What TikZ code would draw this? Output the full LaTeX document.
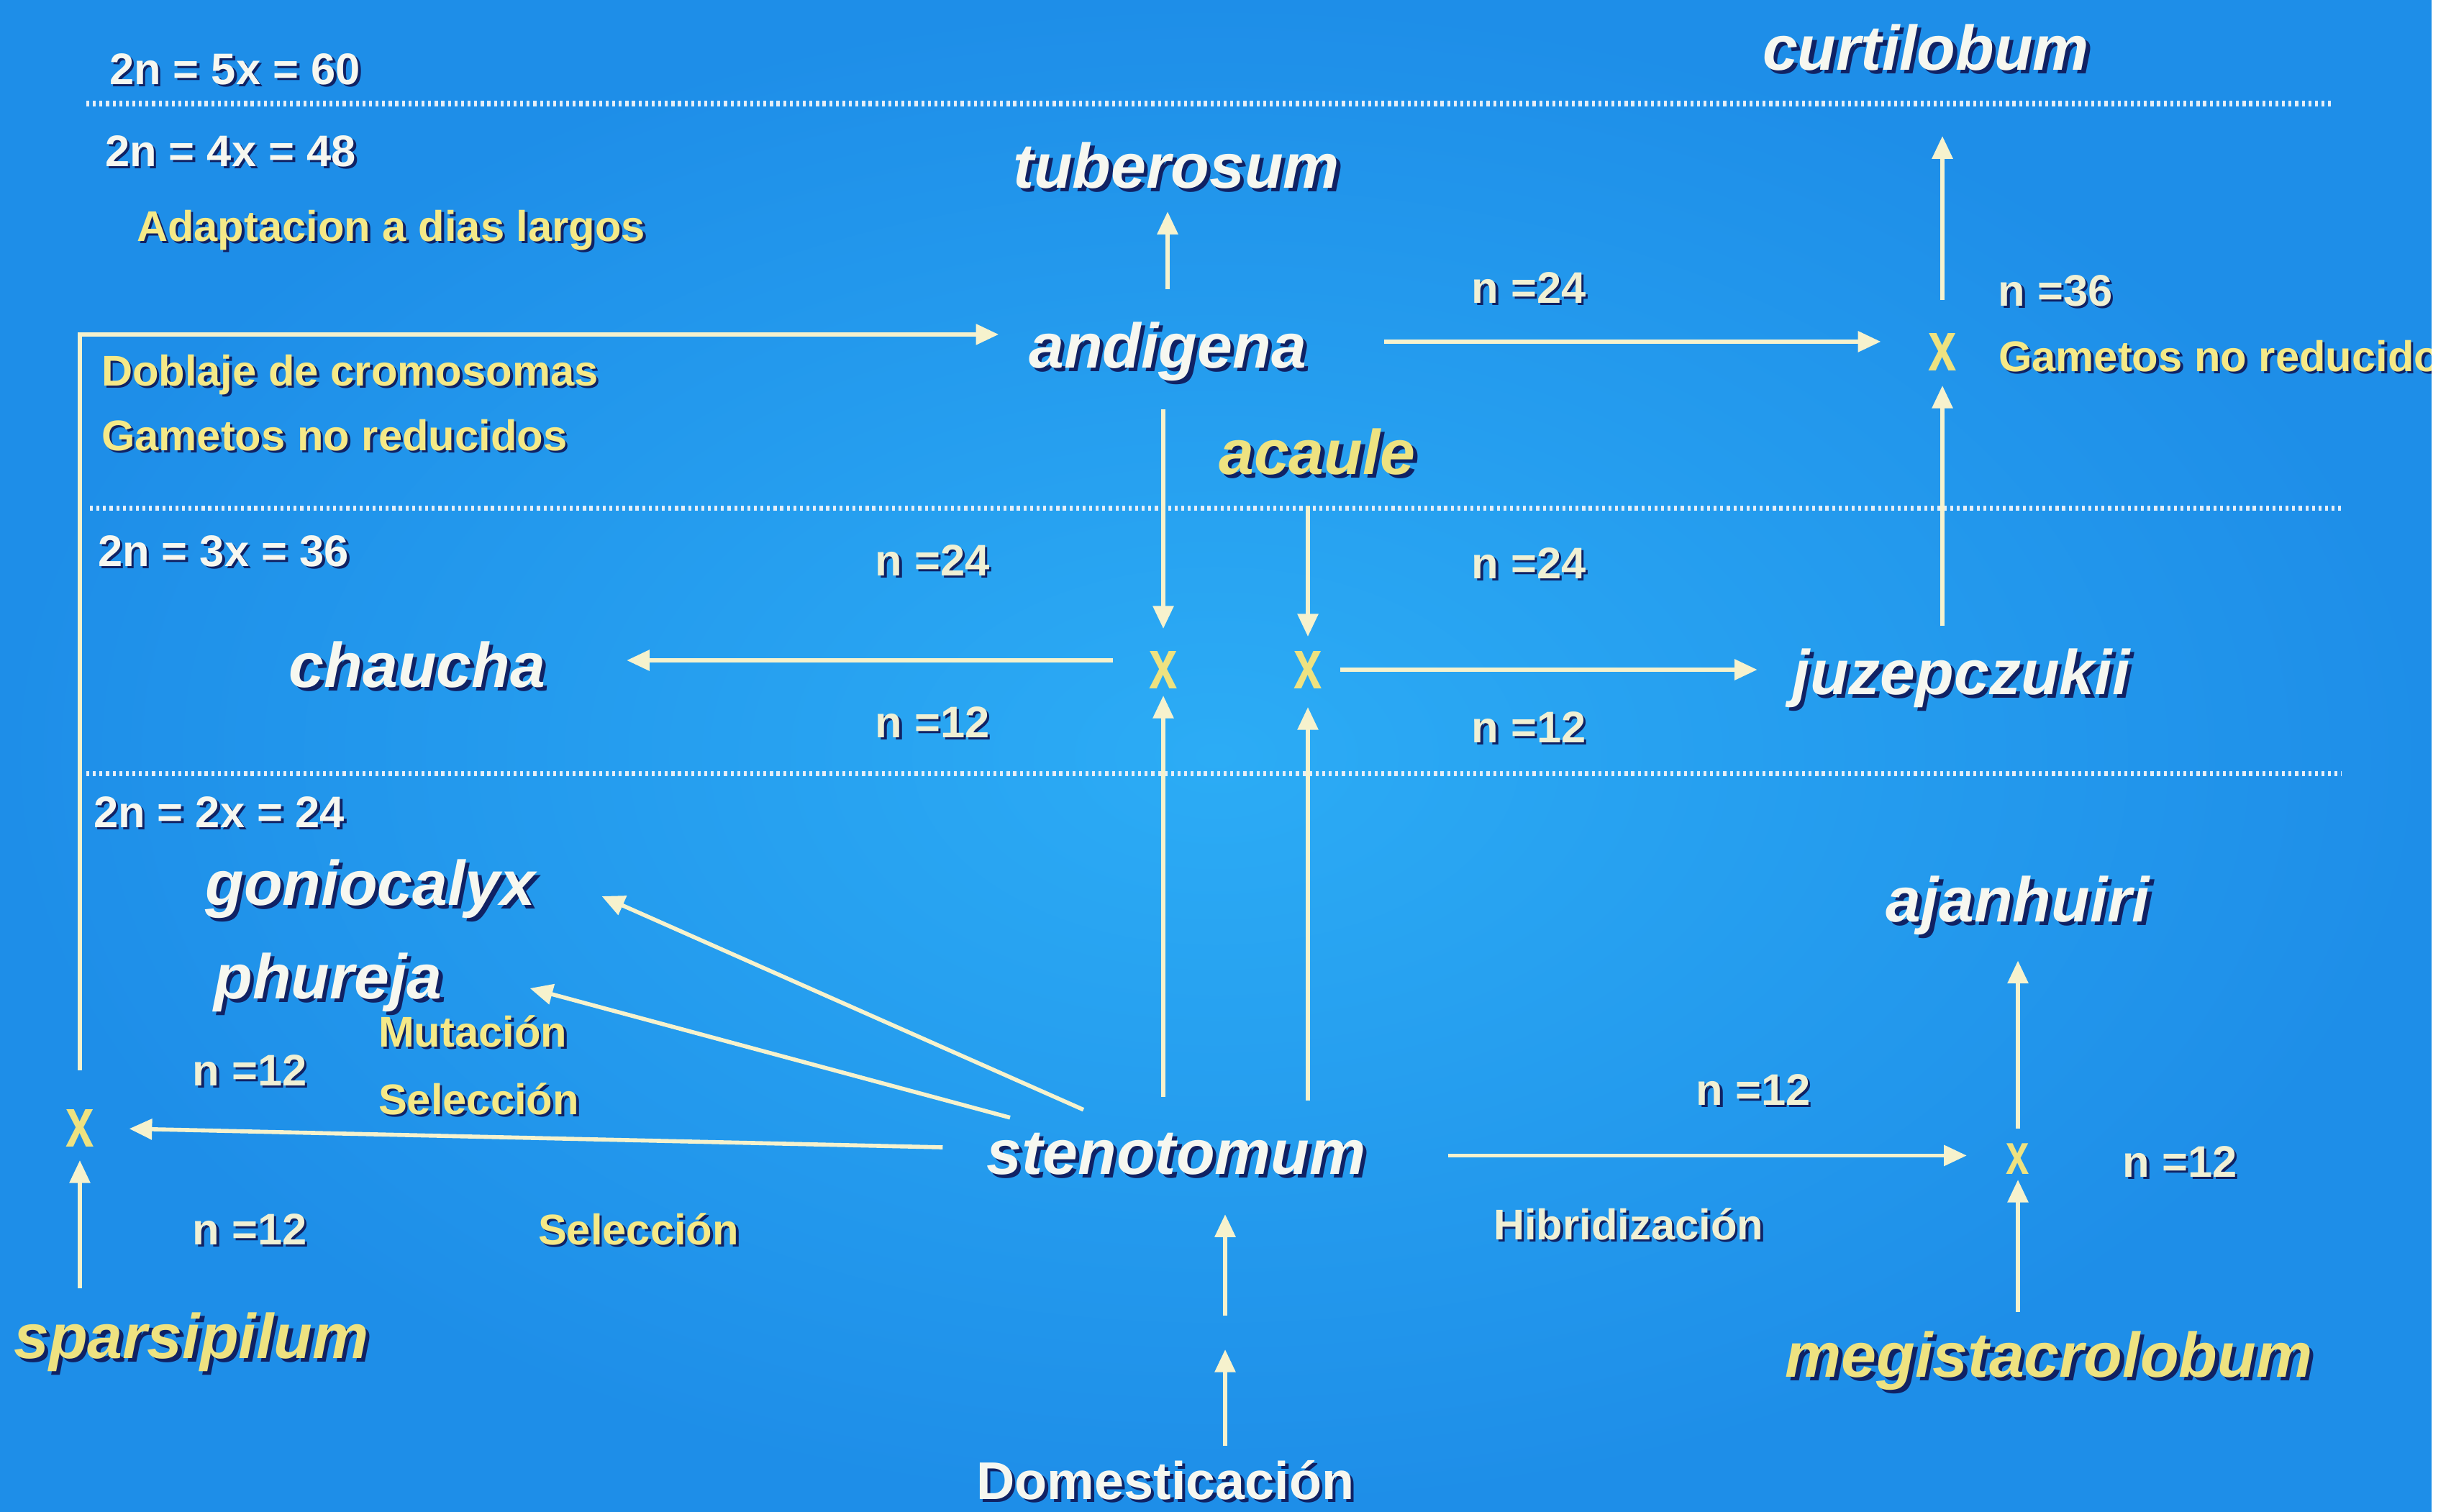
\documentclass[tikz,border=0pt]{standalone}
\usepackage{fontspec}
\setmainfont{Liberation Sans}
\newfontfamily\crossfam[FakeStretch=0.72]{Liberation Sans}
\usetikzlibrary{arrows.meta,calc}

\definecolor{bgin}{RGB}{44,172,245}
\definecolor{bgout}{RGB}{30,142,232}
\definecolor{textwhite}{RGB}{246,247,240}
\definecolor{shadowblue}{RGB}{16,34,100}
\definecolor{spyellow}{RGB}{238,226,128}
\definecolor{noteyellow}{RGB}{245,233,135}
\definecolor{ncream}{RGB}{240,240,212}
\definecolor{arrowcream}{RGB}{246,242,205}
\definecolor{dotwhite}{RGB}{228,238,248}

\newcommand\shadowed[1]{\makebox[0pt][l]{\hspace{0.06em}\raisebox{-0.06em}{\color{shadowblue}#1}}#1}

\tikzset{
  species/.style={anchor=base, text=textwhite, font=\fontsize{25}{30}\selectfont\bfseries\itshape},
  yspecies/.style={species, text=spyellow},
  ploidy/.style={anchor=base west, text=textwhite, font=\fontsize{17.5}{21}\selectfont\bfseries},
  note/.style={anchor=base west, text=noteyellow, font=\fontsize{17}{20}\selectfont\bfseries},
  chrom/.style={anchor=base, text=ncream, font=\fontsize{17.5}{21}\selectfont\bfseries},
  cross/.style={anchor=base, text=spyellow, font=\crossfam\fontsize{28}{30}\selectfont\bfseries},
  arr/.style={draw=arrowcream, line width=1.6pt, -{Triangle[length=9pt,width=8pt]}},
  dots/.style={draw=dotwhite, line width=2pt, dash pattern=on 1.2pt off 1.4pt}
}

\begin{document}
\begin{tikzpicture}[every node/.style={inner sep=0pt, outer sep=0pt}]
  \useasboundingbox (0,0) rectangle (34.07,-21.01);
  \shade[inner color=bgin, outer color=bgout] (0,0) rectangle (33.8,-21.01);
  \foreach \y/\xa/\xb in {-1.44/1.20/32.40,-7.06/1.25/32.55,-10.75/1.20/32.55}
    \draw[dots] (\xa,\y) -- (\xb,\y);

  \node[ploidy] (p60) at (1.52,-1.17) {\shadowed{2n = 5x = 60}};
  \node[ploidy] (p48) at (1.46,-2.31) {\shadowed{2n = 4x = 48}};
  \node[ploidy] (p36) at (1.36,-7.87) {\shadowed{2n = 3x = 36}};
  \node[ploidy] (p24) at (1.30,-11.50) {\shadowed{2n = 2x = 24}};
  \node[note] (adapt) at (1.90,-3.35) {\shadowed{Adaptacion a dias largos}};
  \node[note] (doblaje) at (1.41,-5.36) {\shadowed{Doblaje de cromosomas}};
  \node[note] (gametl) at (1.41,-6.26) {\shadowed{Gametos no reducidos}};
  \node[note] (gametr) at (27.78,-5.16) {\shadowed{Gametos no reducidos}};
  \node[note] (mutac) at (5.26,-14.55) {\shadowed{Mutación}};
  \node[note] (selec) at (5.26,-15.49) {\shadowed{Selección}};
  \node[note] (selecb) at (7.48,-17.30) {\shadowed{Selección}};
  \node[note, text=ncream] (hibrid) at (20.76,-17.23) {\shadowed{Hibridización}};

  \node[species] (tub) at (16.35,-2.61) {\shadowed{tuberosum}};
  \node[species] (andi) at (16.23,-5.11) {\shadowed{andigena}};
  \node[yspecies] (acau) at (18.31,-6.59) {\shadowed{acaule}};
  \node[species] (curt) at (26.77,-0.97) {\shadowed{curtilobum}};
  \node[species] (chau) at (5.80,-9.55) {\shadowed{chaucha}};
  \node[species] (juze) at (27.26,-9.65) {\shadowed{juzepczukii}};
  \node[species] (gonio) at (5.15,-12.58) {\shadowed{goniocalyx}};
  \node[species] (phur) at (4.56,-13.88) {\shadowed{phureja}};
  \node[species] (steno) at (16.35,-16.32) {\shadowed{stenotomum}};
  \node[species] (ajan) at (28.05,-12.81) {\shadowed{ajanhuiri}};
  \node[yspecies] (spars) at (2.66,-18.88) {\shadowed{sparsipilum}};
  \node[yspecies] (megis) at (28.48,-19.14) {\shadowed{megistacrolobum}};
  \node[anchor=base, text=textwhite, font=\fontsize{21}{25}\selectfont\bfseries] (dom) at (16.20,-20.84) {\shadowed{Domesticación}};

  \node[cross] (xl) at (1.11,-15.94) {x};
  \node[cross] (xand) at (16.17,-9.57) {x};
  \node[cross] (xaca) at (18.18,-9.57) {x};
  \node[cross] (xcur) at (27.00,-5.15) {x};
  \node[cross, font=\crossfam\fontsize{23}{26}\selectfont\bfseries] (xaj) at (28.05,-16.32) {x};

  \node[chrom] (na) at (21.25,-4.21) {\shadowed{n =24}};
  \node[chrom] (nb) at (28.57,-4.25) {\shadowed{n =36}};
  \node[chrom] (nc) at (12.96,-8.00) {\shadowed{n =24}};
  \node[chrom] (nd) at (12.96,-10.25) {\shadowed{n =12}};
  \node[chrom] (ne) at (21.25,-8.04) {\shadowed{n =24}};
  \node[chrom] (nf) at (21.25,-10.32) {\shadowed{n =12}};
  \node[chrom] (ng) at (3.47,-15.09) {\shadowed{n =12}};
  \node[chrom] (nh) at (3.47,-17.30) {\shadowed{n =12}};
  \node[chrom] (ni) at (24.37,-15.36) {\shadowed{n =12}};
  \node[chrom] (nj) at (30.30,-16.36) {\shadowed{n =12}};

  \coordinate (dommid) at (17.03,-18.53);

  \draw[arr, shorten <=4.5mm, shorten >=2.7mm] (andi.north) -- (andi.north |- tub.south);
  \draw[arr, shorten <=3.4mm, shorten >=3.1mm] (xand.north |- andi.south) -- (xand.north);
  \draw[arr, shorten <=3.8mm, shorten >=2mm] (xaca.north |- acau.south) -- (xaca.north);
  \draw[arr, shorten <=5mm, shorten >=11.3mm] ($(xand.west)+(0,0.13)$) -- ($(xand.west -| chau.east)+(0,0.13)$);
  \draw[arr, shorten <=2.5mm, shorten >=4.9mm] (xaca.east) -- (xaca.east -| juze.west);
  \draw[arr, shorten <=5mm, shorten >=1mm] (xand.south |- steno.north) -- (xand.south);
  \draw[arr, shorten <=4.5mm, shorten >=2.6mm] (xaca.south |- steno.north) -- (xaca.south);
  \draw[arr] ([shift={(-1.29,0.32)}]steno.north) -- ([shift={(0.92,-0.08)}]gonio.east);
  \draw[arr] ([shift={(-2.31,0.21)}]steno.north) -- ([shift={(1.22,-0.06)}]phur.east);
  \draw[arr, shorten <=6.1mm, shorten >=4.9mm] ($(steno.west)+(0,0.1)$) -- (xl.east);
  \draw[arr, shorten <=3.3mm, shorten >=1.9mm] (xl.south |- spars.north) -- (xl.south);
  \draw[arr, shorten <=11.4mm, shorten >=5.5mm] (steno.east) -- (steno.east -| xaj.west);
  \draw[arr, shorten <=2.6mm, shorten >=0.8mm] (xaj.south |- megis.north) -- (xaj.south);
  \draw[arr, shorten <=2mm, shorten >=3.1mm] (xaj.north) -- (xaj.north |- ajan.south);
  \draw[arr, shorten <=3.1mm, shorten >=2.1mm] (xcur.south |- juze.north) -- (xcur.south);
  \draw[arr, shorten <=4.6mm, shorten >=8.6mm] (xcur.north) -- (xcur.north |- curt.south);
  \draw[arr, shorten <=10.8mm, shorten >=6.6mm] ($(andi.east)+(0,0.16)$) -- ($(andi.east -| xcur.west)+(0,0.16)$);
  \draw[arr, shorten <=5.4mm, shorten >=4.2mm] (xl.north) |- ($(andi.west)+(0,0.26)$);
  \draw[arr, shorten <=2mm, shorten >=2.3mm] (dommid |- dom.north) -- (dommid);
  \draw[arr, shorten <=2.4mm, shorten >=5mm] (dommid) -- (dommid |- steno.south);

  \fill[white] (33.8,0) rectangle (34.07,-21.01);
\end{tikzpicture}
\end{document}
